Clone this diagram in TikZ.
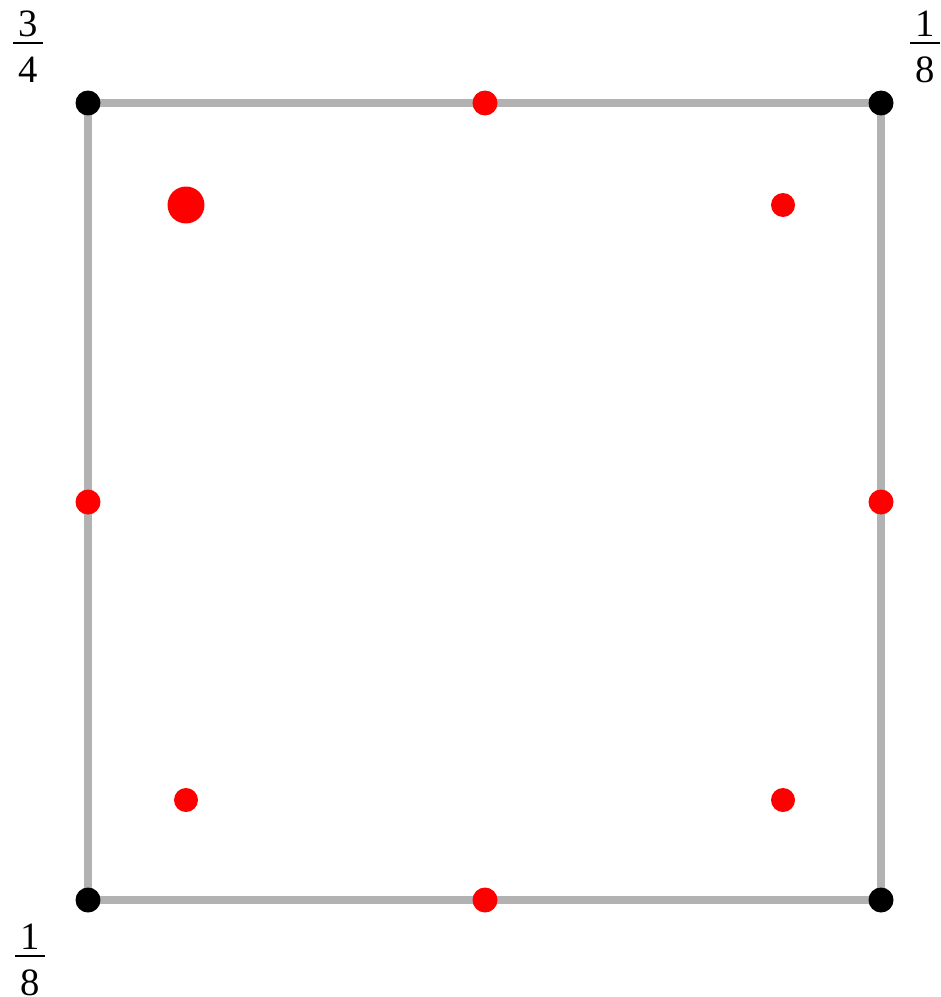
\documentclass[tikz,border=0pt]{standalone}
\usepackage{fontspec}
\setmainfont{Liberation Serif}
% weight written as a fraction
\newcommand{\wfrac}[2]{$\vcenter{\hbox{\kern3pt#1\kern3pt}\kern3pt\hrule height1.1pt\kern7.5pt\hbox{\kern3pt#2\kern3pt}}$}
\begin{document}
\begin{tikzpicture}[x=0.02cm,y=-0.02cm,
    edge/.style={line width=4.3pt,color=gray!60},
    weight/.style={font=\fontsize{22}{26}\selectfont,inner sep=0pt}]
		\useasboundingbox (0,0) rectangle (940,997);

		% Corners
		\coordinate (sw) at (88,900);
		\coordinate (se) at (881,900);
		\coordinate (ne) at (881,103);
		\coordinate (nw) at (88,103);

		% Square
		\draw[edge] (sw) -- (se) -- (ne) -- (nw) -- cycle;

		% Points on the edges
		\foreach \p in {(485,103),(88,502),(881,502),(485,900)}
			\fill[red] \p circle (0.25cm);
		% Points inside
		\foreach \p in {(783,205),(186,800),(783,800)}
			\fill[red] \p circle (0.24cm);
		\fill[red] (186,205) circle (0.37cm);

		% Corner points
		\foreach \c in {sw,se,ne,nw}
			\fill (\c) circle (0.25cm);

		% Weights
		\node[weight] (wnw) at (28,47) {\wfrac{3}{4}};
		\node[weight] (wne) at (925,47) {\wfrac{1}{8}};
		\node[weight] (wsw) at (30,960) {\wfrac{1}{8}};
		
		\end{tikzpicture}
\end{document}
